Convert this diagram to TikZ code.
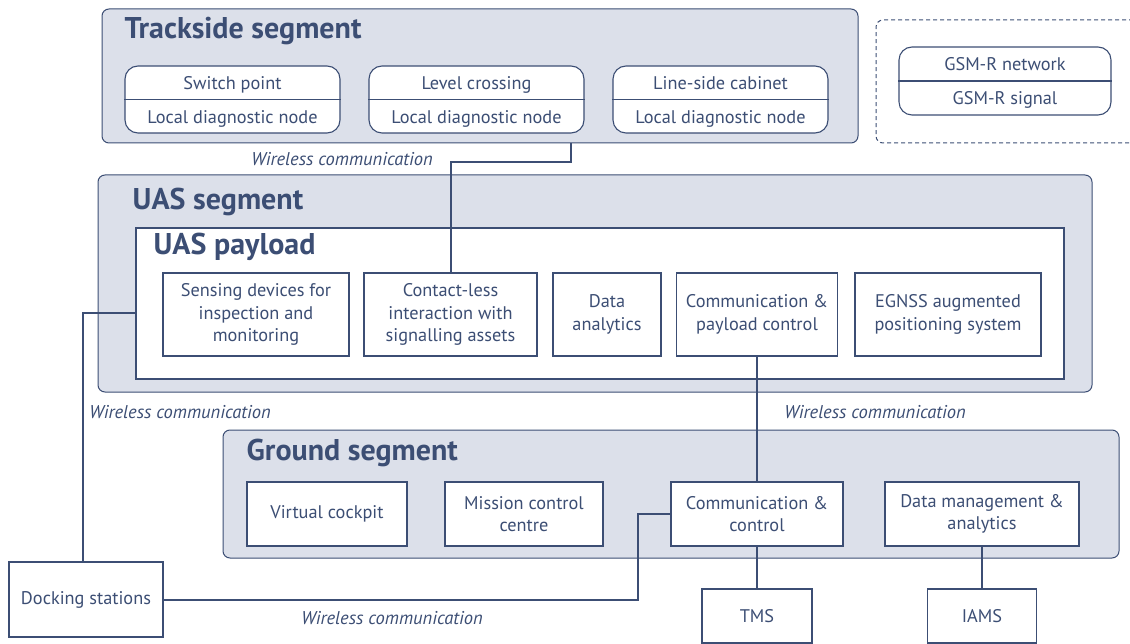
\documentclass[tikz,border=0pt]{standalone}
\usepackage{fontspec}
\setmainfont{PT Sans}
\usetikzlibrary{calc}
\definecolor{navy}{HTML}{3C4E74}
\definecolor{panel}{HTML}{DCE0EA}
\tikzset{
  seg/.style={draw=navy,fill=panel,rounded corners=7pt,line width=1pt,inner sep=0pt},
  ttl/.style={text=navy,font=\bfseries\fontsize{30}{33}\selectfont,anchor=base west,inner sep=0pt},
  blk/.style={draw=navy,fill=white,line width=1.1pt,text=navy,align=center,inner sep=0pt,
    font=\fontsize{18.3}{22.5}\selectfont},
  dual/.style={blk,rounded corners=13pt,minimum width=215pt,minimum height=67pt},
  txt/.style={text=navy,font=\fontsize{18.3}{22.5}\selectfont,inner sep=0pt,anchor=mid},
  wl/.style={text=navy,font=\itshape\fontsize{18.5}{21}\selectfont,inner sep=0pt},
  link/.style={draw=navy,line width=2pt},
}
\begin{document}
\begin{tikzpicture}[x=1pt,y=-1pt]
\useasboundingbox (0,0) rectangle (1130,644);
% trackside segment
\node[seg,minimum width=756pt,minimum height=134pt] (track) at (480,76) {};
\node[ttl] (tracktitle) at ($(track.north west)+(23,30)$) {Trackside segment};
\foreach \n/\x/\a in {switch/232.5/Switch point,level/476.5/Level crossing,cabinet/720.5/Line-side cabinet}{
  \node[dual] (\n) at (\x,99.5) {};
  \draw[navy,line width=1.1pt] (\n.west) -- (\n.east);
  \node[txt] (\n-top) at ($(\n.north)!0.5!(\n.center)+(0,4.5)$) {\a};
  \node[txt] (\n-bot) at ($(\n.south)!0.5!(\n.center)+(0,4)$) {Local diagnostic node};
}
% gsm-r, cut at the right edge
\node[draw=navy,line width=1pt,dash pattern=on 4pt off 3pt,rounded corners=7pt,
  minimum width=264pt,minimum height=123pt] (radio) at (1008,81.5) {};
\node[dual,minimum width=212pt,minimum height=68pt] (gsm) at (1005,81) {};
\draw[navy,line width=1.1pt] (gsm.west) -- (gsm.east);
\node[txt] (gsm-top) at ($(gsm.north)!0.5!(gsm.center)+(0,4.5)$) {GSM-R network};
\node[txt] (gsm-bot) at ($(gsm.south)!0.5!(gsm.center)+(0,4)$) {GSM-R signal};
% uas segment
\node[seg,minimum width=994pt,minimum height=217pt] (uas) at (595,283.5) {};
\node[ttl] (uastitle) at ($(uas.north west)+(35,35)$) {UAS segment};
\node[blk,minimum width=928pt,minimum height=151pt] (payload) at (600,303.5) {};
\node[ttl] (payloadtitle) at ($(payload.north west)+(18,27)$) {UAS payload};
\foreach \n/\x/\w/\t in {sensing/256/186/Sensing devices for\\inspection and\\monitoring,
  contact/450.5/173/Contact-less\\interaction with\\signalling assets,
  data/607/108/Data\\analytics,
  comm/757/161/Communication \&\\payload control,
  egnss/948/186/EGNSS augmented\\positioning system}
  \node[blk,minimum width=\w pt,minimum height=83pt] (\n) at (\x,314.5) {\t};
% ground segment
\node[seg,minimum width=896pt,minimum height=128pt] (ground) at (671,494) {};
\node[ttl] (groundtitle) at ($(ground.north west)+(24,31)$) {Ground segment};
\foreach \n/\x/\w/\t in {cockpit/327/160/Virtual cockpit,
  mission/524/158/Mission control\\centre,
  comctl/757/172/Communication \&\\control,
  datamgmt/982/194/Data management \&\\analytics}
  \node[blk,minimum width=\w pt,minimum height=64pt] (\n) at (\x,514) {\t};
% outside nodes
\node[blk,minimum width=154pt,minimum height=75pt] (docking) at (86,599.5) {Docking stations};
\node[blk,minimum width=110pt,minimum height=54pt] (tms) at (757,616) {TMS};
\node[blk,minimum width=109pt,minimum height=54pt] (iams) at (982,616) {IAMS};
% links
\coordinate (lcdrop) at (571,162);
\coordinate (dk) at (83,313);
\draw[link] (contact.north) |- (lcdrop) -- (track.south -| lcdrop);
\draw[link] (comm.south) -- (comctl.north);
\draw[link] (payload.west |- dk) -- (dk) -- (dk |- docking.north);
\draw[link] (docking.east) -| ($(comctl.west)+(-32,0)$) -- (comctl.west);
\draw[link] (comctl.south) -- (tms.north);
\draw[link] (datamgmt.south) -- (iams.north);
\node[wl] (wl1) at (342,159) {Wireless communication};
\node[wl] (wl2) at (180,412) {Wireless communication};
\node[wl] (wl3) at (875,412) {Wireless communication};
\node[wl] (wl4) at (392,618) {Wireless communication};
\end{tikzpicture}
\end{document}
